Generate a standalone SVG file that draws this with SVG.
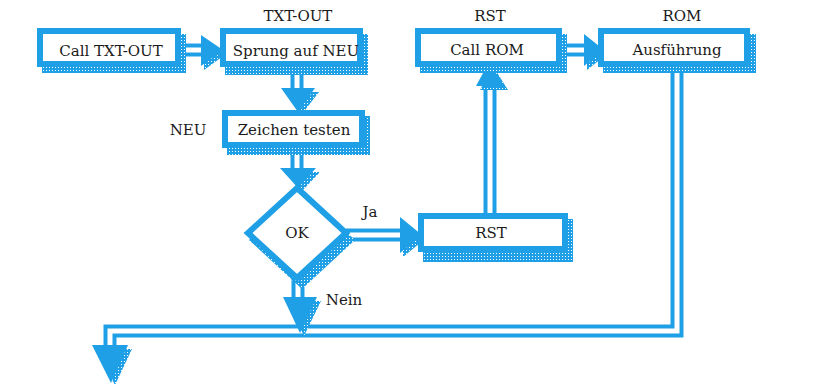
<svg xmlns="http://www.w3.org/2000/svg" width="814" height="384" viewBox="0 0 814 384">
<defs>
<pattern id="dots" width="3" height="3" patternUnits="userSpaceOnUse">
<rect width="3" height="3" fill="#1e9fe6"/>
<rect x="1" y="1" width="1" height="1" fill="#ffffff"/>
</pattern>
</defs>
<style>
.shadow{fill:url(#dots)}
.frame{fill:#ffffff;stroke:#1e9fe6;stroke-width:6;stroke-linejoin:miter}
.txt{font-family:"DejaVu Serif","Liberation Serif",serif;font-size:15px;fill:#1a1a1a;text-anchor:middle}
.lbl{font-family:"DejaVu Serif","Liberation Serif",serif;font-size:15px;fill:#1a1a1a;text-anchor:middle}
.wire{fill:none;stroke:#1e9fe6;stroke-width:13;stroke-linejoin:miter}
.gap{fill:none;stroke:#ffffff;stroke-width:5;stroke-linejoin:miter}
.head{fill:#1e9fe6}
.hshadow{fill:url(#dots)}
</style>
<rect width="814" height="384" fill="#ffffff"/>

<g id="connectors">
  <!-- loop from Ausführung to exit -->
  <polyline class="wire" points="677,67 677,331 110,331 110,350"/>
  <polyline class="gap" points="677,67 677,331 110,331 110,350"/>
  <polygon class="hshadow" points="96,349 132,349 115,385"/>
  <polygon class="head" points="92,345 128,345 111,383"/>
  <!-- Call TXT-OUT -> Sprung -->
  <line class="wire" x1="181" y1="50" x2="203" y2="50"/>
  <line class="gap" x1="181" y1="50" x2="203" y2="50"/>
  <polygon class="hshadow" points="204,39 204,70 226,54"/>
  <polygon class="head" points="201,35 201,66 223,50"/>
  <!-- Sprung -> Zeichen -->
  <line class="wire" x1="297" y1="67" x2="297" y2="90"/>
  <line class="gap" x1="297" y1="67" x2="297" y2="90"/>
  <polygon class="hshadow" points="285,92 319,92 302,114"/>
  <polygon class="head" points="281,88 315,88 298,112"/>
  <!-- Zeichen -> OK -->
  <line class="wire" x1="297" y1="148" x2="297" y2="170"/>
  <line class="gap" x1="297" y1="148" x2="297" y2="170"/>
  <polygon class="hshadow" points="284,172 320,172 302,191"/>
  <polygon class="head" points="280,168 316,168 298,188"/>
  <!-- OK -> RST (Ja) -->
  <line class="wire" x1="346" y1="235" x2="402" y2="235"/>
  <line class="gap" x1="346" y1="235" x2="402" y2="235"/>
  <polygon class="hshadow" points="403,221 403,257 425,239"/>
  <polygon class="head" points="400,217 400,253 422,235"/>
  <!-- RST -> Call ROM -->
  <line class="wire" x1="490" y1="213" x2="490" y2="82"/>
  <line class="gap" x1="490" y1="213" x2="490" y2="82"/>
  <polygon class="hshadow" points="480,90 508,90 493,66"/>
  <polygon class="head" points="476,86 504,86 489,62"/>
  <!-- Call ROM -> Ausführung -->
  <line class="wire" x1="562" y1="50" x2="586" y2="50"/>
  <line class="gap" x1="562" y1="50" x2="586" y2="50"/>
  <polygon class="hshadow" points="587,38 587,70 607,54"/>
  <polygon class="head" points="584,34 584,66 604,50"/>
  <!-- OK -> Nein -->
  <line class="wire" x1="298" y1="278" x2="298" y2="300"/>
  <line class="gap" x1="298" y1="278" x2="298" y2="300"/>
  <polygon class="hshadow" points="287,301 321,301 304,336"/>
  <polygon class="head" points="283,297 317,297 300,333"/>
</g>

<g id="label-txtout"><text class="lbl" x="298" y="21">TXT-OUT</text></g>
<g id="label-rst"><text class="lbl" x="490" y="21">RST</text></g>
<g id="label-rom"><text class="lbl" x="682" y="21">ROM</text></g>
<g id="label-neu"><text class="lbl" x="188" y="135">NEU</text></g>
<g id="label-ja"><text class="lbl" x="370" y="217">Ja</text></g>
<g id="label-nein"><text class="lbl" x="344" y="305">Nein</text></g>

<g id="call-txtout">
  <rect class="shadow" x="42" y="34" width="144" height="39"/>
  <rect class="frame" x="40" y="31" width="138" height="33"/>
  <text class="txt" x="111" y="56">Call TXT-OUT</text>
</g>
<g id="sprung">
  <rect class="shadow" x="225" y="34" width="143" height="41"/>
  <rect class="frame" x="223" y="31" width="137" height="33"/>
  <text class="txt" x="296" y="56">Sprung auf NEU</text>
</g>
<g id="call-rom">
  <rect class="shadow" x="420" y="34" width="147" height="39"/>
  <rect class="frame" x="418" y="31" width="141" height="33"/>
  <text class="txt" x="487" y="55">Call ROM</text>
</g>
<g id="ausfuehrung">
  <rect class="shadow" x="603" y="34" width="153" height="39"/>
  <rect class="frame" x="601" y="31" width="146" height="33"/>
  <text class="txt" x="677" y="55">Ausführung</text>
</g>
<g id="zeichen">
  <rect class="shadow" x="227" y="116" width="143" height="39"/>
  <rect class="frame" x="225" y="113" width="137" height="32"/>
  <text class="txt" x="294" y="135">Zeichen testen</text>
</g>
<g id="ok">
  <polygon class="shadow" points="302,191 355,240 302,289 249,240"/>
  <polygon class="frame" points="297,188 346,233 297,278 248,233"/>
  <text class="txt" x="297" y="238">OK</text>
</g>
<g id="rst">
  <rect class="shadow" x="423" y="219" width="150" height="43"/>
  <rect class="frame" x="421" y="216" width="144" height="33"/>
  <text class="txt" x="491" y="238">RST</text>
</g>
</svg>
